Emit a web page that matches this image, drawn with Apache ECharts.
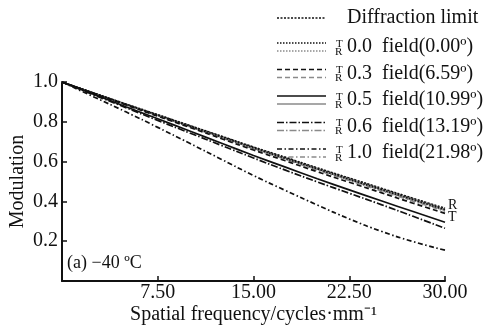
<!DOCTYPE html>
<html>
<head>
<meta charset="utf-8">
<script src="https://cdn.jsdelivr.net/npm/echarts@6.0.0/dist/echarts.min.js"></script>
<style>
  html, body { margin: 0; padding: 0; background: #fff; }
  #chart { width: 493px; height: 325px; }
</style>
</head>
<body>
<div id="chart"></div>
<script>
// spatial frequency samples (cycles/mm)
const freq = [0, 2.5, 5, 7.5, 10, 12.5, 15, 17.5, 20, 22.5, 25, 27.5, 30];
const xTicks = [7.5, 15, 22.5, 30];

// MTF values
const diffLimit = [1.0, 0.945, 0.89, 0.836, 0.782, 0.728, 0.674, 0.622, 0.569, 0.518, 0.467, 0.416, 0.366];
const t00 = [1.0, 0.944, 0.888, 0.833, 0.778, 0.724, 0.669, 0.616, 0.563, 0.511, 0.46, 0.409, 0.358];
const r00 = [1.0, 0.945, 0.889, 0.835, 0.781, 0.727, 0.672, 0.62, 0.567, 0.516, 0.465, 0.414, 0.364];
const t03 = [1.0, 0.942, 0.885, 0.828, 0.772, 0.715, 0.658, 0.604, 0.549, 0.496, 0.444, 0.391, 0.34];
const r03 = [1.0, 0.944, 0.889, 0.834, 0.78, 0.726, 0.671, 0.619, 0.566, 0.514, 0.463, 0.412, 0.361];
const t05 = [1.0, 0.938, 0.876, 0.815, 0.754, 0.692, 0.631, 0.572, 0.514, 0.458, 0.403, 0.349, 0.295];
const r05 = [1.0, 0.944, 0.888, 0.833, 0.779, 0.724, 0.669, 0.616, 0.563, 0.511, 0.46, 0.409, 0.358];
const t06 = [1.0, 0.935, 0.871, 0.807, 0.744, 0.681, 0.618, 0.557, 0.498, 0.441, 0.384, 0.325, 0.265];
const r06 = [1.0, 0.943, 0.887, 0.832, 0.777, 0.722, 0.667, 0.614, 0.56, 0.508, 0.457, 0.405, 0.355];
const t10 = [1.0, 0.925, 0.85, 0.772, 0.692, 0.611, 0.53, 0.455, 0.382, 0.312, 0.25, 0.198, 0.155];
const r10 = [1.0, 0.943, 0.886, 0.83, 0.775, 0.72, 0.664, 0.611, 0.557, 0.505, 0.453, 0.401, 0.351];

const fieldNames = ["0.0  field(0.00º)", "0.3  field(6.59º)", "0.5  field(10.99º)", "0.6  field(13.19º)", "1.0  field(21.98º)"];
const tData = [t00, t03, t05, t06, t10];
const rData = [r00, r03, r05, r06, r10];

const FONT = "Liberation Serif";
const dark = "#111";
const gray = "#8a8a8a";
const dashes = [[1.5, 1.5], [5, 3], "solid", [7, 2, 1.5, 2], [5, 2.5, 1.5, 2.5]];

function pts(vals) {
  return freq.map(function (f, i) { return [f, vals[i]]; });
}

var series = [];
series.push({
  name: "Diffraction limit", type: "line", data: pts(diffLimit), smooth: true,
  showSymbol: false, z: 5,
  lineStyle: { color: dark, width: 1.4, type: [2, 1.5] }
});
for (let i = 0; i < fieldNames.length; i++) {
  series.push({
    name: fieldNames[i] + " R", type: "line", data: pts(rData[i]), smooth: true,
    showSymbol: false, z: 3,
    lineStyle: { color: gray, width: 1.6, type: dashes[i] }
  });
  series.push({
    name: fieldNames[i] + " T", type: "line", data: pts(tData[i]), smooth: true,
    showSymbol: false, z: 4,
    lineStyle: { color: dark, width: 1.7, type: dashes[i] }
  });
}

// legend drawn by hand: two sample lines (T above, R below) per field
var graphics = [];
var lx0 = 277, lx1 = 326, tx = 347;
graphics.push({ type: "line", shape: { x1: lx0, y1: 18, x2: lx1, y2: 18 },
  style: { stroke: dark, lineWidth: 1.4, lineDash: [2, 1.5] } });
graphics.push({ type: "text", x: tx, y: 18,
  style: { text: "Diffraction limit", font: "20px " + FONT, fill: dark, textVerticalAlign: "middle" } });
for (let i = 0; i < fieldNames.length; i++) {
  var y = 43 + i * 26.5;
  var d = dashes[i] === "solid" ? null : dashes[i];
  graphics.push({ type: "line", shape: { x1: lx0, y1: y, x2: lx1, y2: y },
    style: { stroke: dark, lineWidth: 1.7, lineDash: d } });
  graphics.push({ type: "line", shape: { x1: lx0, y1: y + 8, x2: lx1, y2: y + 8 },
    style: { stroke: gray, lineWidth: 1.6, lineDash: d } });
  graphics.push({ type: "text", x: 336, y: y + 1,
    style: { text: "T", font: "11px " + FONT, fill: dark, textVerticalAlign: "middle" } });
  graphics.push({ type: "text", x: 335, y: y + 9,
    style: { text: "R", font: "11px " + FONT, fill: dark, textVerticalAlign: "middle" } });
  graphics.push({ type: "text", x: tx, y: y + 4,
    style: { text: fieldNames[i], font: "20px " + FONT, fill: dark, textVerticalAlign: "middle" } });
}
graphics.push({ type: "text", x: 448, y: 205,
  style: { text: "R", font: "14px " + FONT, fill: dark, textVerticalAlign: "middle" } });
graphics.push({ type: "text", x: 448, y: 217,
  style: { text: "T", font: "14px " + FONT, fill: dark, textVerticalAlign: "middle" } });
graphics.push({ type: "text", x: 67, y: 263,
  style: { text: "(a) −40 ºC", font: "18px " + FONT, fill: dark, textVerticalAlign: "middle" } });

var chart = echarts.init(document.getElementById("chart"));
chart.setOption({
  animation: false,
  backgroundColor: "#fff",
  textStyle: { fontFamily: FONT },
  grid: { left: 62, right: 48, top: 82, bottom: 44, containLabel: false, outerBoundsMode: "none" },
  xAxis: {
    type: "value", min: 0, max: 30, interval: 7.5,
    name: "Spatial frequency/cycles·mm⁻¹", nameLocation: "middle", nameGap: 24,
    nameMoveOverlap: false,
    nameTextStyle: { fontFamily: FONT, fontSize: 20, color: dark },
    axisLine: { lineStyle: { color: dark, width: 2 } },
    axisTick: { inside: true, length: 5, lineStyle: { color: dark, width: 1.5 } },
    axisLabel: {
      fontFamily: FONT, fontSize: 20, color: dark, margin: 2,
      formatter: function (v) { return xTicks.indexOf(v) >= 0 ? v.toFixed(2) : ""; }
    },
    splitLine: { show: false }
  },
  yAxis: {
    type: "value", min: 0, max: 1, interval: 0.2,
    name: "Modulation", nameLocation: "middle", nameGap: 34,
    nameMoveOverlap: false,
    nameTextStyle: { fontFamily: FONT, fontSize: 20, color: dark },
    axisLine: { show: true, lineStyle: { color: dark, width: 2 } },
    axisTick: { show: true, inside: true, length: 5, lineStyle: { color: dark, width: 1.5 } },
    axisLabel: {
      fontFamily: FONT, fontSize: 20, color: dark, margin: 4,
      formatter: function (v) { return v === 0 ? "" : v.toFixed(1); }
    },
    splitLine: { show: false }
  },
  series: series,
  graphic: graphics
});
</script>
</body>
</html>
